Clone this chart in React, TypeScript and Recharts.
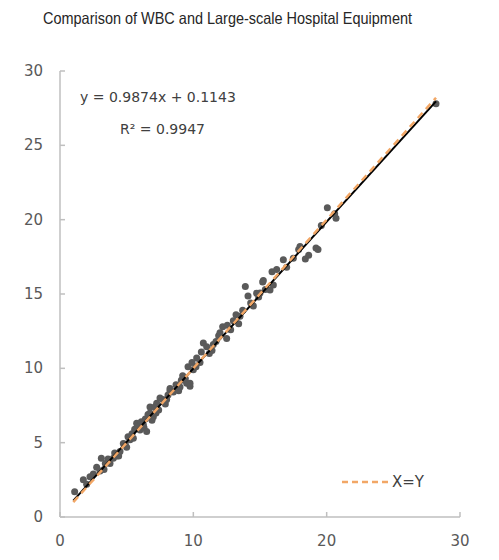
import React from 'react';
import { ScatterChart, Scatter, XAxis, YAxis } from 'recharts';

// Large-scale hospital equipment (x) vs WBC (y)
const hospitalValues = [
  1.1, 1.75, 2.0, 2.25, 2.5, 2.75, 3.0, 3.1, 3.3, 3.4, 3.6, 3.75, 4.0, 4.1, 4.25, 4.4, 4.5,
  4.75, 4.9, 5.0, 5.1, 5.25, 5.4, 5.5, 5.6, 5.75, 5.9, 6.0, 6.1, 6.25, 6.3, 6.4, 6.5, 6.6, 6.75,
  6.75, 6.9, 7.0, 7.1, 7.2, 7.25, 7.4, 7.5, 7.7, 7.9, 8.0, 8.1, 8.25, 8.25, 8.5, 8.7, 8.9, 9.0,
  9.1, 9.2, 9.4, 9.5, 9.6, 9.75, 9.75, 9.9, 10.0, 10.2, 10.25, 10.5, 10.6, 10.75, 11.0, 11.2,
  11.4, 11.5, 11.7, 11.9, 12.0, 12.2, 12.5, 12.55, 12.8, 13.0, 13.2, 13.4, 13.5, 13.7, 13.9,
  14.1, 14.3, 14.5, 14.75, 14.9, 15.0, 15.2, 15.25, 15.4, 15.75, 15.9, 16.0, 16.25, 16.75, 17.0,
  17.5, 17.9, 18.0, 18.4, 18.65, 19.2, 19.35, 19.6, 20.05, 20.6, 20.7, 28.2,
];
const wbcValues = [
  1.7, 2.5, 2.2, 2.7, 2.9, 3.35, 3.1, 3.95, 3.2, 3.6, 3.9, 3.6, 3.95, 4.3, 4.1, 4.1, 4.4,
  4.95, 4.9, 4.7, 5.4, 5.2, 5.6, 5.3, 5.9, 6.3, 6.1, 5.85, 6.4, 6.2, 6.0, 6.6, 5.75, 6.9, 7.0,
  7.4, 6.5, 6.75, 7.4, 7.0, 7.65, 7.2, 8.0, 7.9, 7.6, 7.9, 8.2, 8.5, 8.65, 8.4, 8.9, 8.5, 8.75,
  9.2, 9.5, 9.3, 9.0, 10.1, 8.8, 9.0, 10.4, 9.9, 10.1, 10.7, 10.4, 11.1, 11.7, 11.45, 11.0,
  11.2, 11.6, 11.8, 12.2, 12.4, 12.8, 12.0, 12.9, 12.6, 13.2, 13.6, 13.0, 13.5, 13.9, 15.5,
  14.86, 14.4, 14.2, 15.05, 14.8, 15.06, 15.8, 15.9, 15.3, 15.27, 16.5, 15.6, 16.65, 17.3, 16.8,
  17.4, 18.0, 18.2, 17.35, 17.6, 18.1, 18.0, 19.6, 20.8, 20.4, 20.1, 27.8,
];

// Linear trendline endpoints (y = 0.9874x + 0.1143)
const trendX = [1.0, 28.2];
const trendY = [1.1, 27.96];
// X=Y reference endpoints
const identityX = [1.0, 28.2];
const identityY = [1.0, 28.2];

const xTicks = [0, 10, 20, 30];
const yTicks = [0, 5, 10, 15, 20, 25, 30];

const points = hospitalValues.map((x, i) => ({ x, y: wbcValues[i] }));
const trend = trendX.map((x, i) => ({ x, y: trendY[i] }));
const identity = identityX.map((x, i) => ({ x, y: identityY[i] }));

const FONT = 'DejaVu Sans, Verdana, sans-serif';
const AXIS = '#bfbfbf';
const TEXT = '#595959';

const YTick = (props: any) => {
  const { x, y, payload } = props;
  return (
    <g>
      <line x1={x + 17} x2={x + 22} y1={y} y2={y} stroke={AXIS} strokeWidth={1.5} />
      <text x={x} y={y} dy={5} textAnchor="end" fontFamily={FONT} fontSize={15} fill={TEXT}>
        {payload.value}
      </text>
    </g>
  );
};

const XTick = (props: any) => {
  const { x, y, payload } = props;
  return (
    <g>
      <line x1={x} x2={x} y1={y - 29} y2={y - 34} stroke={AXIS} strokeWidth={1.5} />
      <text x={x} y={y} textAnchor="middle" fontFamily={FONT} fontSize={15} fill={TEXT}>
        {payload.value}
      </text>
    </g>
  );
};

const Dot = (props: any) => {
  const { cx, cy } = props;
  return <circle cx={cx} cy={cy} r={3.5} fill="#5a5a5a" />;
};

const NoShape = () => <g />;

export default function App() {
  return (
    <div style={{ position: 'relative', width: 483, height: 544 }}>
      <ScatterChart width={483} height={544} margin={{ top: 63, right: 31, bottom: 5, left: 0 }}>
        <XAxis
          type="number"
          dataKey="x"
          domain={[0, 30]}
          ticks={xTicks}
          interval={0}
          stroke={AXIS}
          strokeWidth={1.5}
          tickLine={false}
          tickSize={0}
          tickMargin={29}
          height={30}
          tick={<XTick />}
        />
        <YAxis
          type="number"
          dataKey="y"
          domain={[0, 30]}
          ticks={yTicks}
          interval={0}
          stroke={AXIS}
          strokeWidth={1.5}
          tickLine={false}
          tickSize={0}
          tickMargin={17}
          width={52}
          tick={<YTick />}
        />
        <Scatter data={points} shape={<Dot />} isAnimationActive={false} />
        <Scatter
          data={trend}
          line={{ stroke: '#000000', strokeWidth: 2 }}
          shape={<NoShape />}
          isAnimationActive={false}
        />
        <Scatter
          data={identity}
          line={{ stroke: '#F2A766', strokeWidth: 2.5, strokeDasharray: '7 5' }}
          shape={<NoShape />}
          isAnimationActive={false}
        />
      </ScatterChart>
      <svg
        width={483}
        height={544}
        style={{ position: 'absolute', left: 0, top: 0, pointerEvents: 'none' }}
      >
        <text
          x={35}
          y={16}
          fontFamily="Liberation Sans, Arial, sans-serif"
          fontSize={16.5}
          fill="#262626"
          textLength={369}
          lengthAdjust="spacingAndGlyphs"
        >
          Comparison of WBC and Large-scale Hospital Equipment
        </text>
        <text x={72} y={94} fontFamily={FONT} fontSize={14} fill="#404040">
          y = 0.9874x + 0.1143
        </text>
        <text x={112} y={126} fontFamily={FONT} fontSize={14} fill="#404040">
          R² = 0.9947
        </text>
        <line
          x1={334}
          x2={380}
          y1={474}
          y2={474}
          stroke="#F2A766"
          strokeWidth={2.5}
          strokeDasharray="6 4"
        />
        <text x={384} y={479} fontFamily={FONT} fontSize={15} fill="#404040">
          X=Y
        </text>
      </svg>
    </div>
  );
}
